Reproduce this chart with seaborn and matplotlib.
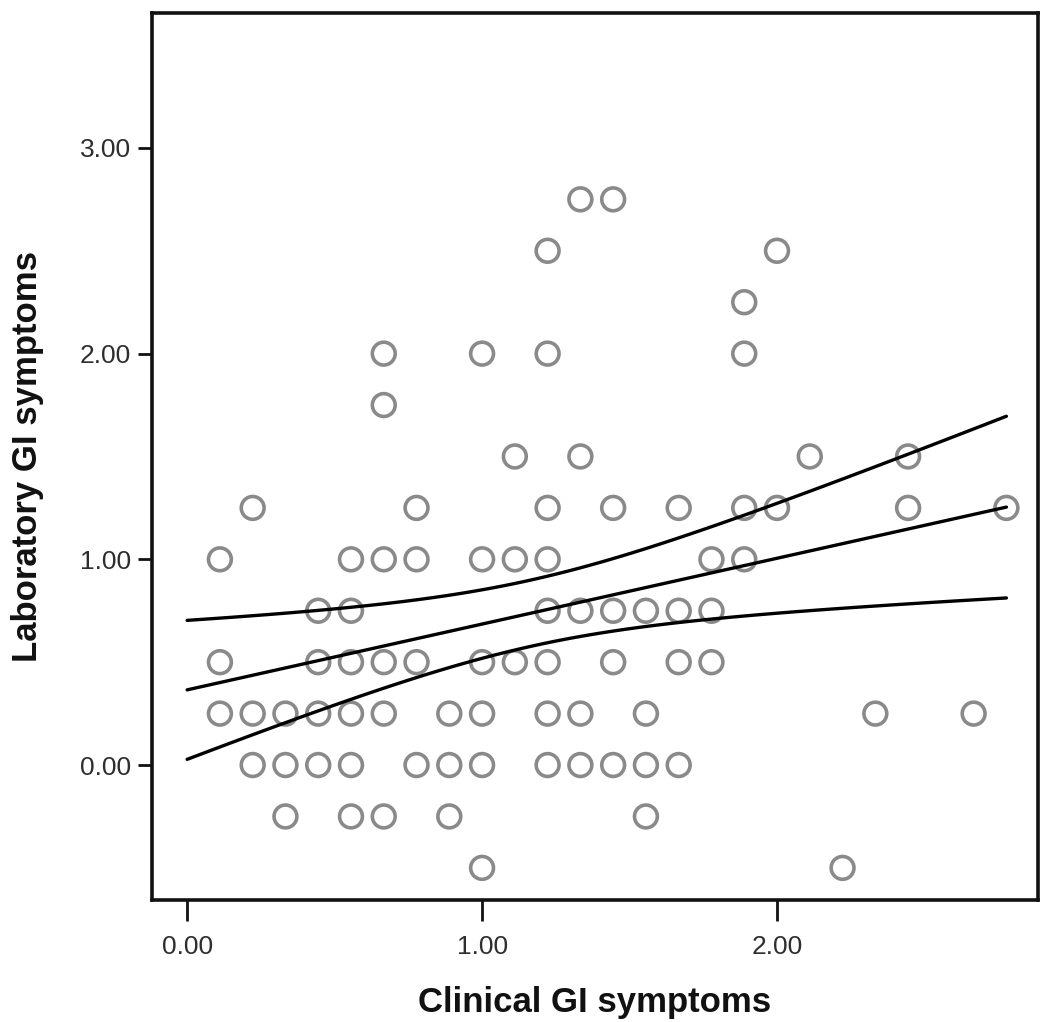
import numpy as np
import pandas as pd
import seaborn as sns
import matplotlib
matplotlib.use('Agg')
import matplotlib.pyplot as plt

# clinical score columns (multiples of 1/9) and the laboratory scores seen in each
clinical_levels = [1, 2, 3, 4, 5, 6, 7, 8, 9, 10, 11, 12, 13, 14, 15, 16, 17, 18, 19, 20, 21, 22, 24, 25]
lab_by_level = [
  [1.0, 0.5, 0.25],
  [1.25, 0.25, 0.0],
  [0.25, 0.0, -0.25],
  [0.75, 0.5, 0.25, 0.0],
  [1.0, 0.75, 0.5, 0.25, 0.0, -0.25],
  [2.0, 1.75, 1.0, 0.5, 0.25, -0.25],
  [1.25, 1.0, 0.5, 0.0],
  [0.25, 0.0, -0.25],
  [2.0, 1.0, 0.5, 0.25, 0.0, -0.5],
  [1.5, 1.0, 0.5],
  [2.5, 2.0, 1.25, 1.0, 0.75, 0.5, 0.25, 0.0],
  [2.75, 1.5, 0.75, 0.25, 0.0],
  [2.75, 1.25, 0.75, 0.5, 0.0],
  [0.75, 0.25, 0.0, -0.25],
  [1.25, 0.75, 0.5, 0.0],
  [1.0, 0.75, 0.5],
  [2.25, 2.0, 1.25, 1.0],
  [2.5, 1.25],
  [1.5],
  [-0.5],
  [0.25],
  [1.5, 1.25],
  [0.25],
  [1.25],
]

rows = []
for lvl, labs in zip(clinical_levels, lab_by_level):
  for v in labs:
    rows.append({'clinical': lvl / 9.0, 'lab': v})
df = pd.DataFrame(rows)

# linear fit with 95% confidence band for the mean
x = df['clinical'].values
y = df['lab'].values
n = len(x)
slope, intercept = np.polyfit(x, y, 1)
resid = y - (intercept + slope * x)
s = np.sqrt(np.sum(resid ** 2) / (n - 2))
sxx = np.sum((x - x.mean()) ** 2)
tcrit = 1.99
xs = np.linspace(0, x.max(), 100)
fit = intercept + slope * xs
half = tcrit * s * np.sqrt(1.0 / n + (xs - x.mean()) ** 2 / sxx)

sns.set_theme(style='white')
plt.rcParams['font.family'] = ['Liberation Sans', 'DejaVu Sans']

fig = plt.figure(figsize=(10.5, 10.22), dpi=100)
ax = fig.add_axes([0.1448, 0.1194, 0.8438, 0.8679])

sns.scatterplot(data=df, x='clinical', y='lab', ax=ax, s=270, marker='o',
                facecolors='none', edgecolor='#8a8a8a', linewidth=2.6, zorder=2)
ax.plot(xs, fit, color='black', lw=2.4, zorder=3)
ax.plot(xs, fit + half, color='black', lw=2.4, zorder=3)
ax.plot(xs, fit - half, color='black', lw=2.4, zorder=3)

ax.set_xlim(-0.119, 2.885)
ax.set_ylim(-0.656, 3.656)
ax.set_xticks([0, 1, 2])
ax.set_yticks([0, 1, 2, 3])
ax.set_xticklabels(['0.00', '1.00', '2.00'])
ax.set_yticklabels(['0.00', '1.00', '2.00', '3.00'])
for sp in ax.spines.values():
  sp.set_visible(True)
  sp.set_color('#111111')
  sp.set_linewidth(2.6)
ax.tick_params(axis='x', direction='out', length=15, width=2, color='#111111',
               labelsize=19, labelcolor='#2e2e2e', pad=10, bottom=True)
ax.tick_params(axis='y', direction='out', length=10, width=2, color='#111111',
               labelsize=19, labelcolor='#2e2e2e', pad=5, left=True)
ax.set_xlabel('Clinical GI symptoms', fontsize=25, fontweight='bold', color='#111111', labelpad=20)
ax.set_ylabel('Laboratory GI symptoms', fontsize=25, fontweight='bold', color='#111111', labelpad=26)

plt.savefig('out.png', dpi=100)
